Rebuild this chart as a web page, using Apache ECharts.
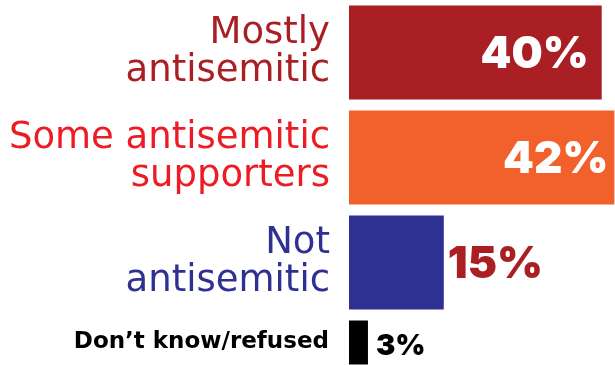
<!DOCTYPE html>
<html>
<head>
<meta charset="utf-8">
<script src="https://cdn.jsdelivr.net/npm/echarts@6/dist/echarts.min.js"></script>
<style>
  html, body { margin: 0; padding: 0; background: #fff; }
  #chart { width: 615px; height: 365px; }
</style>
</head>
<body>
<div id="chart"></div>
<script>
// Survey answers and their shares (percent)
const categories = ['Mostly\nantisemitic', 'Some antisemitic\nsupporters', 'Not\nantisemitic', 'Don\u2019t know/refused'];
const values = [40, 42, 15, 3];
const barColors = ['#a91f24', '#f2612c', '#2e3192', '#000000'];
const labelColors = ['#a91f24', '#ed1c24', '#2e3192', '#000000'];
const valueLabelColors = ['#ffffff', '#ffffff', '#a91f24', '#000000'];

const LABEL_FONT = '"DejaVu Sans", Verdana, sans-serif';
const VALUE_FONT = 'Inter, "DejaVu Sans", sans-serif';
const X_MAX = 42.1;

// first three answers share the big bar grid, the last one gets a slim row
const mainCount = 3;

function makeItem(v, i) {
  const inside = i < 2;
  return {
    value: v,
    itemStyle: { color: barColors[i] },
    label: {
      show: true,
      position: inside ? 'insideRight' : 'right',
      distance: i === 0 ? 13 : (i === 1 ? 6 : 4),
      formatter: '{c}%',
      color: valueLabelColors[i],
      fontFamily: VALUE_FONT,
      fontWeight: 900,
      fontSize: i === 3 ? 29 : 44,
      offset: i === 3 ? [4, 4] : [0, 2]
    }
  };
}

const chart = echarts.init(document.getElementById('chart'), null, { renderer: 'canvas' });
chart.setOption({
  animation: false,
  grid: [
    { left: 349, right: 0, top: -2, height: 317 },
    { left: 349, right: 0, top: 320, height: 50 }
  ],
  xAxis: [
    { gridIndex: 0, type: 'value', min: 0, max: X_MAX, show: false },
    { gridIndex: 1, type: 'value', min: 0, max: X_MAX, show: false }
  ],
  yAxis: [
    {
      gridIndex: 0, type: 'category', inverse: true,
      data: categories.slice(0, mainCount),
      axisLine: { show: false }, axisTick: { show: false },
      axisLabel: {
        margin: 19,
        fontFamily: LABEL_FONT,
        fontSize: 37,
        lineHeight: 38,
        padding: [4, 0, 0, 0],
        align: 'right',
        color: (val, idx) => labelColors[idx]
      }
    },
    {
      gridIndex: 1, type: 'category', inverse: true,
      data: categories.slice(mainCount),
      axisLine: { show: false }, axisTick: { show: false },
      axisLabel: {
        margin: 20,
        fontFamily: LABEL_FONT,
        fontWeight: 'bold',
        fontSize: 23,
        padding: [4, 0, 0, 0],
        align: 'right',
        color: (val, idx) => labelColors[mainCount + idx]
      }
    }
  ],
  series: [
    {
      type: 'bar', xAxisIndex: 0, yAxisIndex: 0,
      barWidth: 94,
      data: values.slice(0, mainCount).map((v, i) => makeItem(v, i))
    },
    {
      type: 'bar', xAxisIndex: 1, yAxisIndex: 1,
      barWidth: 44,
      data: values.slice(mainCount).map((v, i) => makeItem(v, mainCount + i))
    }
  ]
});
</script>
</body>
</html>
